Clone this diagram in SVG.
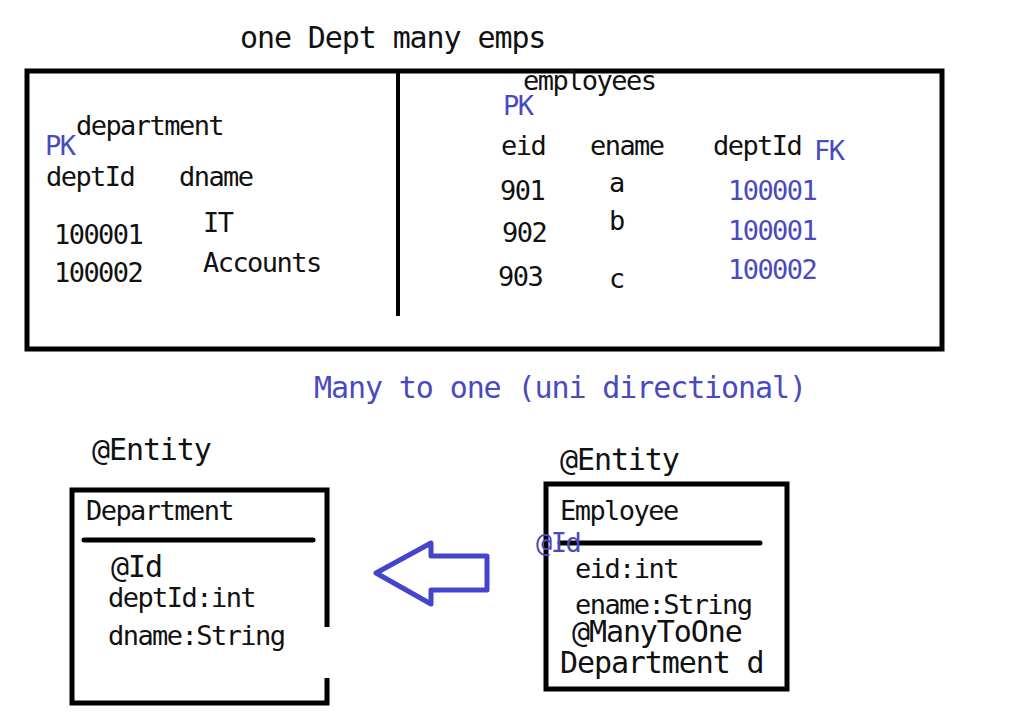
<svg xmlns="http://www.w3.org/2000/svg" width="1014" height="721" viewBox="0 0 1014 721">
<style>
text{font-family:"DejaVu Sans Mono","Liberation Mono",monospace;fill:#111}
.s{font-size:27px;letter-spacing:-1.55px}
.m{font-size:30px;letter-spacing:-1.1px}
.b{fill:#4a4ac0}
.box{fill:none;stroke:#000;stroke-width:5}
</style>
<rect width="1014" height="721" fill="#fff"/>
<text class="m" x="240" y="48">one Dept many emps</text>
<g id="tables">
<rect class="box" x="27" y="71" width="915" height="278"/>
<line x1="398" y1="72" x2="398" y2="316" stroke="#000" stroke-width="4"/>
</g>
<g id="department-table">
<text class="s b" x="45" y="155">PK</text>
<text class="s" x="76" y="135">department</text>
<text class="s" x="46" y="186">deptId</text>
<text class="s" x="179" y="186">dname</text>
<text class="s" x="54" y="244">100001</text>
<text class="s" x="54" y="282">100002</text>
<text class="s" x="203" y="232">IT</text>
<text class="s" x="203" y="272">Accounts</text>
</g>
<g id="employees-table">
<text class="s" x="523" y="90">employees</text>
<text class="s b" x="503" y="115">PK</text>
<text class="s" x="501" y="155">eid</text>
<text class="s" x="590" y="155">ename</text>
<text class="s" x="713" y="155">deptId</text>
<text class="s b" x="814" y="160">FK</text>
<text class="s" x="500" y="200">901</text>
<text class="s" x="502" y="242">902</text>
<text class="s" x="498" y="286">903</text>
<text class="s" x="609" y="192">a</text>
<text class="s" x="609" y="230">b</text>
<text class="s" x="609" y="288">c</text>
<text class="s b" x="728" y="200">100001</text>
<text class="s b" x="728" y="240">100001</text>
<text class="s b" x="728" y="279">100002</text>
</g>
<text class="m b" x="314" y="398">Many to one (uni directional)</text>
<g id="department-entity">
<text class="m" x="92" y="460">@Entity</text>
<path d="M327,627 V490 H72 V703 H327 V678" fill="none" stroke="#000" stroke-width="5"/>
<text class="s" x="86" y="520">Department</text>
<line x1="84" y1="540" x2="313" y2="540" stroke="#000" stroke-width="5" stroke-linecap="round"/>
<text class="m" x="111" y="577">@Id</text>
<text class="s" x="108" y="607">deptId:int</text>
<text class="s" x="108" y="645">dname:String</text>
</g>
<g id="employee-entity">
<text class="m" x="560" y="470">@Entity</text>
<rect class="box" x="546" y="484" width="241" height="205"/>
<text class="s" x="560" y="520">Employee</text>
<line x1="560" y1="543" x2="760" y2="543" stroke="#000" stroke-width="5" stroke-linecap="round"/>
<text class="s b" x="536" y="552">@Id</text>
<text class="s" x="575" y="578">eid:int</text>
<text class="s" x="575" y="614">ename:String</text>
<text class="m" x="572" y="642">@ManyToOne</text>
<text class="m" x="560" y="673">Department d</text>
</g>
<g id="connectors">
<polygon points="376,573 431,543 431,556 487,556 487,590 431,590 431,604" fill="none" stroke="#4444cc" stroke-width="5" stroke-linejoin="round"/>
</g>
</svg>
